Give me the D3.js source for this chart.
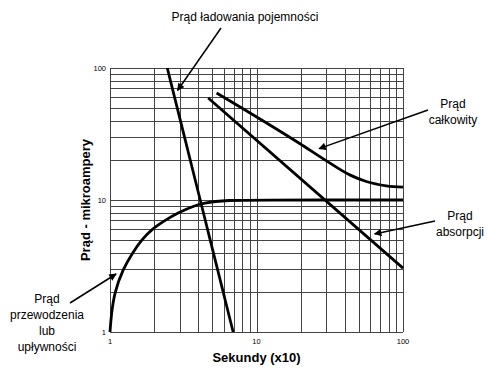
<!DOCTYPE html>
<html>
<head>
<meta charset="utf-8">
<script src="https://cdn.jsdelivr.net/npm/d3@7"></script>
<style>
  body { margin: 0; background: #fff; }
  text { font-family: "Liberation Sans", Arial, sans-serif; fill: #000; }
</style>
</head>
<body>
<svg id="chart" width="500" height="375"></svg>
<script>
// values
var tickValues = [1, 10, 100];
var gridValues = [1, 2, 3, 4, 5, 6, 7, 8, 9, 10, 20, 30, 40, 50, 60, 70, 80, 90, 100];

var chargingX = [2.46, 6.93];
var chargingY = [100, 1];

var absorptionX = [4.68, 100];
var absorptionY = [59.3, 3.05];

var conductionX = [1, 1.02, 1.073, 1.226, 1.428, 1.645, 1.923, 2.37, 2.91, 3.80, 4.44, 5.20, 6.5, 8.5, 100];
var conductionY = [1, 1.35, 2, 3, 4, 5, 6, 7, 8, 9.1, 9.49, 9.76, 9.93, 10, 10];

var totalX = [5.34, 19.7, 30, 43.3, 56.2, 77, 100];
var totalY = [64.7, 26.8, 19.8, 15.5, 13.8, 12.8, 12.5];

// annotation texts, arrow tip given in data units
var notes = [
  { lines: ["Prąd ładowania pojemności"], tx: 245, ty: 21, fx: 221, fy: 28, tipX: 2.89, tipY: 67.6 },
  { lines: ["Prąd", "całkowity"], tx: 453, ty: 108, fx: 428, fy: 110, tipX: 26.7, tipY: 24.5 },
  { lines: ["Prąd", "absorpcji"], tx: 460, ty: 220, fx: 435, fy: 221, tipX: 64, tipY: 5.53 },
  { lines: ["Prąd", "przewodzenia", "lub", "upływności"], tx: 47, ty: 303, fx: 70, fy: 303, tipX: 1.1, tipY: 2.75 }
];

var margin = { left: 110, top: 68, right: 97, bottom: 43 };
var width = 500 - margin.left - margin.right;
var height = 375 - margin.top - margin.bottom;

var svg = d3.select("#chart");

svg.append("defs").append("marker")
    .attr("id", "head")
    .attr("viewBox", "0 0 10 10")
    .attr("refX", 9).attr("refY", 5)
    .attr("markerWidth", 6).attr("markerHeight", 5)
    .attr("markerUnits", "strokeWidth")
    .attr("orient", "auto")
  .append("path")
    .attr("d", "M0,0 L10,5 L0,10 Z")
    .attr("fill", "#000");

var g = svg.append("g").attr("transform", "translate(" + margin.left + "," + margin.top + ")");

var x = d3.scaleLog().domain([1, 100]).range([0, width]);
var y = d3.scaleLog().domain([1, 100]).range([height, 0]);

// grid
g.selectAll(".vgrid").data(gridValues).enter().append("line")
    .attr("x1", d => Math.round(x(d)) + 0.5).attr("x2", d => Math.round(x(d)) + 0.5)
    .attr("y1", 0).attr("y2", height)
    .attr("stroke", "#444").attr("stroke-width", 1);

g.selectAll(".hgrid").data(gridValues).enter().append("line")
    .attr("y1", d => Math.round(y(d)) + 0.5).attr("y2", d => Math.round(y(d)) + 0.5)
    .attr("x1", 0).attr("x2", width)
    .attr("stroke", "#444").attr("stroke-width", 1);

// tick labels
g.selectAll(".xlab").data(tickValues).enter().append("text")
    .attr("x", d => x(d)).attr("y", height + 12)
    .attr("text-anchor", "middle")
    .style("font-size", "7.5px")
    .text(d => d);

g.selectAll(".ylab").data(tickValues).enter().append("text")
    .attr("x", -4).attr("y", d => y(d) + 3)
    .attr("text-anchor", "end")
    .style("font-size", "7.5px")
    .text(d => d);

// axis titles
g.append("text")
    .attr("x", width / 2).attr("y", height + 30)
    .attr("text-anchor", "middle")
    .style("font-size", "13px").style("font-weight", "bold")
    .text("Sekundy (x10)");

g.append("text")
    .attr("transform", "translate(-20," + (height / 2) + ") rotate(-90)")
    .attr("text-anchor", "middle")
    .style("font-size", "13px").style("font-weight", "bold")
    .text("Prąd - mikroampery");

// curves
function pts(xs, ys) { return xs.map((v, i) => [v, ys[i]]); }

var straight = d3.line().x(d => x(d[0])).y(d => y(d[1]));
var smooth = d3.line().x(d => x(d[0])).y(d => y(d[1])).curve(d3.curveMonotoneX);
var soft = d3.line().x(d => x(d[0])).y(d => y(d[1])).curve(d3.curveBasis);

var series = [
  { data: pts(chargingX, chargingY), gen: straight },
  { data: pts(absorptionX, absorptionY), gen: straight },
  { data: pts(conductionX, conductionY), gen: soft },
  { data: pts(totalX, totalY), gen: smooth }
];

g.selectAll(".curve").data(series).enter().append("path")
    .attr("d", d => d.gen(d.data))
    .attr("fill", "none")
    .attr("stroke", "#000")
    .attr("stroke-width", 2.8);

// annotations
notes.forEach(function(n){
  svg.append("line")
      .attr("x1", n.fx).attr("y1", n.fy)
      .attr("x2", margin.left + x(n.tipX)).attr("y2", margin.top + y(n.tipY))
      .attr("stroke", "#000").attr("stroke-width", 1.5)
      .attr("marker-end", "url(#head)");
  var t = svg.append("text")
      .attr("x", n.tx).attr("y", n.ty)
      .attr("text-anchor", "middle")
      .style("font-size", "12px");
  n.lines.forEach(function(s, i){
    t.append("tspan").attr("x", n.tx).attr("dy", i === 0 ? 0 : 16).text(s);
  });
});
</script>
</body>
</html>
